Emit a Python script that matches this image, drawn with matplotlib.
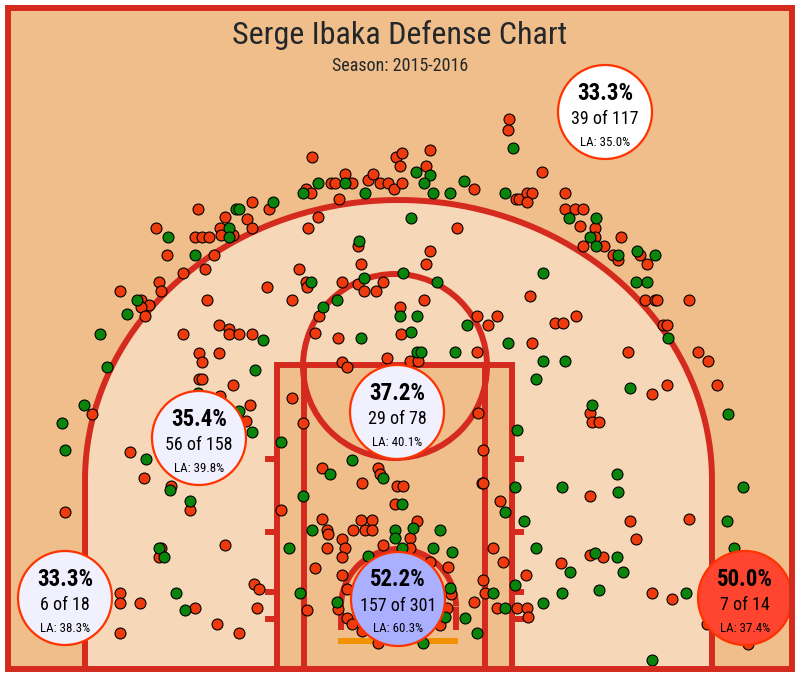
import numpy as np
import matplotlib
matplotlib.use('Agg')
import matplotlib.pyplot as plt
from matplotlib.patches import Circle, Rectangle, Polygon, Arc

# shot locations (court drawn in 800x676 image units, y grows downwards)
made_x = [303, 318, 345, 365, 236, 239, 273, 229, 168, 229, 195, 137, 127, 100, 311, 359, 364, 337,
          323, 400, 263, 361, 107, 255, 198, 239, 252, 84, 62, 65, 146, 170, 190, 159, 164, 176,
          185, 281, 303, 289, 300, 352, 330, 383, 312, 395, 395, 368, 337, 402, 413, 440, 402,
          433, 452, 423, 450, 445, 465, 477, 493, 505, 515, 505, 524, 515, 417, 421, 455, 508,
          543, 565, 536, 630, 592, 728, 668, 517, 562, 617, 618, 743, 727, 734, 536, 543, 562,
          570, 595, 617, 623, 599, 686, 652, 513, 416, 430, 424, 433, 450, 464, 505, 569, 596,
          590, 596, 618, 637, 655, 636, 647, 411, 403, 437, 543, 417, 411, 467]
made_y = [193, 183, 183, 193, 209, 209, 202, 228, 237, 237, 255, 300, 314, 334, 282, 241, 278, 300,
          307, 316, 340, 338, 367, 370, 393, 411, 432, 405, 423, 450, 459, 490, 501, 548, 557, 593,
          610, 442, 496, 548, 593, 460, 474, 478, 530, 530, 538, 556, 602, 504, 528, 530, 548,
          548, 552, 643, 588, 617, 618, 633, 593, 608, 585, 512, 521, 487, 352, 352, 352, 343,
          361, 361, 379, 388, 405, 414, 338, 430, 487, 474, 492, 487, 521, 548, 548, 603, 593,
          572, 553, 557, 572, 590, 593, 660, 148, 172, 175, 183, 193, 193, 181, 193, 218, 218,
          237, 246, 255, 251, 255, 282, 282, 218, 273, 282, 273, 316, 332, 325]

miss_x = [312, 396, 400, 306, 311, 331, 335, 345, 352, 339, 368, 373, 380, 388, 394, 198, 225, 252,
          269, 247, 252, 156, 195, 202, 209, 220, 221, 233, 167, 214, 183, 205, 318, 308, 120, 159,
          161, 141, 149, 141, 145, 183, 207, 267, 299, 292, 306, 307, 358, 361, 342, 358, 364, 376,
          383, 319, 315, 400, 219, 229, 229, 239, 252, 338,
          199, 202, 219, 199, 202, 233, 220, 250, 246, 92, 130, 144, 171, 190, 65, 161, 159, 225,
          120, 120, 140, 195, 120, 217, 239, 254, 259, 257, 292, 303, 281, 307, 342, 347, 387, 322,
          362, 378, 380, 397, 395, 322, 327, 328, 342, 353, 361, 372, 365, 372, 383, 327, 345, 342,
          315, 342, 347, 338, 347, 352, 362, 378,
          403, 417, 410, 410, 430, 448, 451, 447, 440, 474, 483, 485, 497, 517, 527, 528, 526, 503,
          493, 500, 482, 410, 418, 477, 532, 628, 652, 667, 590, 592, 599, 698, 708, 717, 478, 483,
          483, 590, 630, 636, 689, 561, 590, 603, 652, 672, 707, 748,
          509, 508, 430, 402, 426, 402, 474, 542, 516, 519, 527, 532, 527, 565, 565, 575, 583, 580,
          595, 595, 583, 604, 621, 613, 618, 640, 647, 645, 655, 657, 689, 663, 667, 457, 430, 426,
          530, 424, 401, 477, 488, 497, 555, 563, 576]
miss_y = [157, 157, 166, 189, 193, 183, 183, 174, 183, 199, 180, 174, 183, 183, 189, 209, 217, 202,
          209, 219, 228, 228, 237, 237, 237, 228, 235, 235, 255, 255, 273, 269, 217, 228, 291, 282,
          291, 300, 305, 307, 316, 334, 300, 287, 269, 300, 282, 287, 246, 264, 282, 284, 291, 291,
          282, 316, 333, 307, 325, 329, 334, 334, 334, 338,
          353, 362, 353, 379, 379, 385, 396, 405, 421, 414, 452, 478, 486, 510, 512, 548, 557, 545,
          593, 603, 603, 608, 633, 624, 633, 584, 589, 608, 398, 423, 510, 610, 362, 367, 358, 468,
          483, 468, 474, 486, 504, 519, 530, 534, 539, 530, 520, 520, 530, 530, 545, 548, 548, 557,
          568, 575, 589, 609, 618, 624, 631, 643,
          486, 521, 538, 548, 562, 567, 594, 608, 625, 602, 580, 593, 608, 608, 608, 617, 575, 562,
          548, 501, 483, 361, 361, 352, 343, 352, 394, 385, 413, 422, 422, 352, 361, 385, 413, 450,
          483, 496, 521, 539, 519, 563, 555, 557, 593, 599, 624, 644,
          119, 130, 150, 153, 166, 183, 189, 172, 199, 199, 193, 193, 202, 193, 209, 209, 209, 226,
          228, 237, 246, 246, 237, 255, 260, 255, 264, 300, 300, 300, 300, 325, 325, 228, 251, 264,
          296, 300, 334, 316, 325, 316, 323, 323, 316]

# zone summaries
zone_made = [39, 56, 29, 157, 6, 7]
zone_att = [117, 158, 78, 301, 18, 14]
zone_la = [35.0, 39.8, 40.1, 60.3, 38.3, 37.4]

# layout of the zone bubbles
zone_cx = [605, 199, 397, 398, 65, 745]
zone_cy = [112, 438, 412, 599, 598, 598]
zone_fill = ['#FFFFFF', '#F0F0FF', '#F0F0FF', '#AAB0FF', '#F0F0FF', '#FF4530']

BG = '#F0BE8B'
INNER = '#F6D7B8'
LINE = '#D52B1E'
LW = 4.3
FONT = ['Roboto Condensed', 'Liberation Sans Narrow', 'DejaVu Sans']
plt.rcParams['font.family'] = FONT

fig = plt.figure(figsize=(8, 6.76), dpi=100)
ax = fig.add_axes([0, 0, 1, 1])
ax.set_xlim(0, 800)
ax.set_ylim(676, 0)
ax.axis('off')

# court background
ax.add_patch(Rectangle((8, 8), 783.5, 660.5, facecolor=BG, edgecolor='none', zorder=0))

# three point area
cx, cy, a, b = 398.5, 480, 313.5, 280
t = np.linspace(np.pi, 2 * np.pi, 200)
ex = cx + a * np.cos(t)
ey = cy + b * np.sin(t)
pts = list(zip(ex, ey)) + [(cx + a, 668), (cx - a, 668)]
ax.add_patch(Polygon(pts, closed=True, facecolor=INNER, edgecolor='none', zorder=1))
ax.plot(np.r_[cx - a, ex, cx + a], np.r_[668, ey, 668], color=LINE, lw=LW, zorder=2,
        solid_capstyle='butt')

# lane
ax.add_patch(Rectangle((277, 365), 235, 303.5, facecolor=BG, edgecolor=LINE, lw=LW, zorder=2))
ax.plot([304, 304], [365, 668], color=LINE, lw=LW, zorder=2)
ax.plot([485, 485], [365, 668], color=LINE, lw=LW, zorder=2)
for hy in [459, 532, 592, 619]:
    ax.plot([265, 277], [hy, hy], color=LINE, lw=LW, zorder=2, solid_capstyle='butt')
    ax.plot([512, 524], [hy, hy], color=LINE, lw=LW, zorder=2, solid_capstyle='butt')

# free throw circle
ax.add_patch(Circle((395, 366), 92, facecolor='none', edgecolor=LINE, lw=LW, zorder=2))

# restricted area
ax.add_patch(Arc((398.5, 606.5), 115, 115, theta1=180, theta2=360, edgecolor=LINE, lw=LW, zorder=2))
ax.plot([341, 341], [606.5, 630], color=LINE, lw=LW, zorder=2, solid_capstyle='butt')
ax.plot([456, 456], [606.5, 630], color=LINE, lw=LW, zorder=2, solid_capstyle='butt')

# backboard
ax.plot([338, 458], [641, 641], color='#F39200', lw=LW, zorder=2, solid_capstyle='butt')

# border
ax.add_patch(Rectangle((8, 8), 783.5, 660.5, facecolor='none', edgecolor=LINE, lw=LW, zorder=6))

# shots
ax.scatter(miss_x, miss_y, s=62, c='#EE3A0C', edgecolors='black', linewidths=0.8, zorder=3)
ax.scatter(made_x, made_y, s=62, c='#0A840A', edgecolors='black', linewidths=0.8, zorder=3)

# zone bubbles
for i in range(len(zone_made)):
    x0, y0 = zone_cx[i], zone_cy[i]
    ax.add_patch(Circle((x0, y0), 47, facecolor=zone_fill[i], edgecolor='#FF3300', lw=1.6, zorder=4))
    pct = 100 * zone_made[i] / zone_att[i]
    ax.text(x0, y0 - 19, f'{pct:.1f}%', ha='center', va='center', fontsize=16.5,
            fontweight='bold', color='black', zorder=5)
    ax.text(x0, y0 + 7, f'{zone_made[i]} of {zone_att[i]}', ha='center', va='center',
            fontsize=13, color='black', zorder=5)
    ax.text(x0, y0 + 30, f'LA: {zone_la[i]:.1f}%', ha='center', va='center', fontsize=9.3,
            color='black', zorder=5)

ax.text(400, 35, 'Serge Ibaka Defense Chart', ha='center', va='center', fontsize=23,
        color='#24272A', zorder=5)
ax.text(400, 66, 'Season: 2015-2016', ha='center', va='center', fontsize=13,
        color='#24272A', zorder=5)

fig.savefig('out.png', dpi=100, facecolor='white')
